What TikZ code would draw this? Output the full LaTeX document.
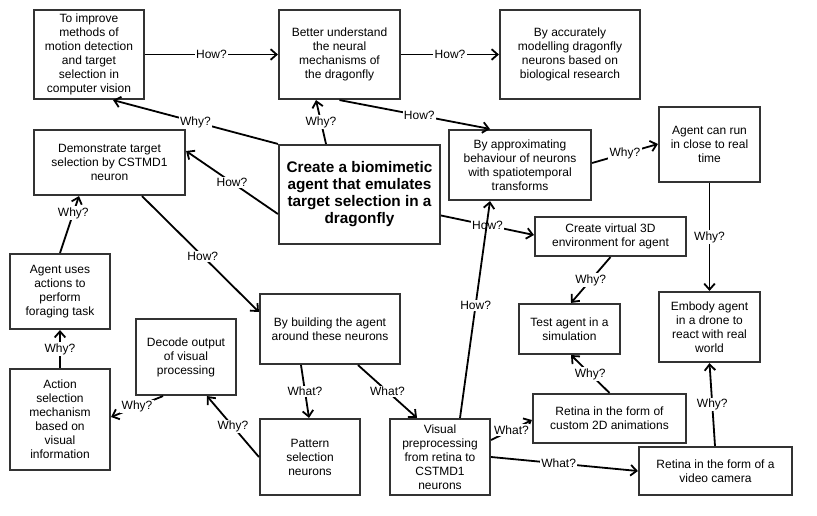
\documentclass[tikz,border=0pt]{standalone}
\usepackage{fontspec}
\setmainfont{Liberation Sans}
\usetikzlibrary{arrows.meta,calc}
\definecolor{boxgray}{HTML}{333333}
\tikzset{
  box/.style 2 args={draw=boxgray, line width=1.6pt, fill=white, align=center,
    minimum width=#1*0.75pt, minimum height=#2*0.75pt, inner sep=1pt,
    font=\fontsize{9}{10.5}\selectfont},
  mainbox/.style 2 args={box={#1}{#2}, font=\fontsize{11.5}{12.75}\selectfont\bfseries},
  conn/.style={line width=1.35pt, black, -{Straight Barb[length=4.5pt,width=8pt,line width=1.35pt]}},
  lbl/.style={fill=white, inner sep=1pt, font=\fontsize{9}{10}\selectfont, text=black}
}
\begin{document}
\begin{tikzpicture}[x=0.75pt, y=-0.75pt]
\useasboundingbox[fill=white] (0,0) rectangle (817,515);
% boxes
\node[box={110}{89}] (b1) at (89,54.5) {To improve\\methods of\\motion detection\\and target\\selection in\\computer vision};
\node[box={121}{89}] (b2) at (339.5,54.5) {Better understand\\the neural\\mechanisms of\\the dragonfly};
\node[box={140}{89}] (b3) at (570,54.5) {By accurately\\modelling dragonfly\\neurons based on\\biological research};
\node[box={151}{65}] (b4) at (109.5,162.5) {Demonstrate target\\selection by CSTMD1\\neuron};
\node[mainbox={161}{99}] (main) at (359.5,194.5) {Create a biomimetic\\agent that emulates\\target selection in a\\dragonfly};
\node[box={142}{70}] (b6) at (520,165) {By approximating\\behaviour of neurons\\with spatiotemporal\\transforms};
\node[box={101}{75}] (b7) at (709.5,144.5) {Agent can run\\in close to real\\time};
\node[box={151}{39}] (b8) at (610.5,236.5) {Create virtual 3D\\environment for agent};
\node[box={100}{75}] (b9) at (60,291.5) {Agent uses\\actions to\\perform\\foraging task};
\node[box={100}{101}] (b10) at (60,419.5) {Action\\selection\\mechanism\\based on\\visual\\information};
\node[box={100}{76}] (b11) at (186,357) {Decode output\\of visual\\processing};
\node[box={140}{70}] (b12) at (330,329) {By building the agent\\around these neurons};
\node[box={100}{76}] (b13) at (310,457) {Pattern\\selection\\neurons};
\node[box={100}{76}] (b14) at (440,457) {Visual\\preprocessing\\from retina to\\CSTMD1\\neurons};
\node[box={101}{50}] (b15) at (569.5,329) {Test agent in a\\simulation};
\node[box={153}{49}] (b16) at (609.5,418.5) {Retina in the form of\\custom 2D animations};
\node[box={153}{48}] (b17) at (715.5,471) {Retina in the form of a\\video camera};
\node[box={101}{70}] (b18) at (709.5,327) {Embody agent\\in a drone to\\react with real\\world};
% connectors
\draw[conn] (b1.east) -- node[lbl]{How?} (b2.west);
\draw[conn] (b2.east) -- node[lbl]{How?} (b3.west);
\draw[conn] (main.north west) -- node[lbl]{Why?} ($(b1.south)+(24,0)$);
\draw[conn] ($(main.north)+(-33.5,0)$) -- node[lbl]{Why?} ($(b2.south)+(-23.5,0)$);
\draw[conn] (b2.south) -- node[lbl,pos=0.53]{How?} ($(b6.north)+(-30,0)$);
\draw[conn] ($(main.west)+(0,19.5)$) -- node[lbl]{How?} ($(b4.east)+(0,-11.5)$);
\draw[conn] ($(b4.south)+(32.5,0)$) -- node[lbl,pos=0.52]{How?} ($(b12.west)+(0,-17)$);
\draw[conn] ($(main.east)+(0,21)$) -- node[lbl]{How?} ($(b8.west)+(0,-1.5)$);
\draw[conn] ($(b14.north)+(20,0)$) -- node[lbl,pos=0.52]{How?} ($(b6.south)+(-30,0)$);
\draw[conn] ($(b6.east)+(0,-2)$) -- node[lbl]{Why?} ($(b7.west)+(0,-0.5)$);
\draw[conn] (b7.south) -- node[lbl]{Why?} (b18.north);
\draw[conn] (b8.south) -- node[lbl]{Why?} ($(b15.north)+(1.5,0)$);
\draw[conn] (b16.north) -- node[lbl]{Why?} ($(b15.south)+(1.5,0)$);
\draw[conn] ($(b14.east)+(0,-17)$) -- node[lbl]{What?} ($(b16.west)+(0,1.5)$);
\draw[conn] (b14.east) -- node[lbl,pos=0.46]{What?} (b17.west);
\draw[conn] ($(b17.north)+(-0.5,0)$) -- node[lbl]{Why?} (b18.south);
\draw[conn] (b9.north) -- node[lbl,pos=0.7]{Why?} ($(b4.south)+(-30.5,0)$);
\draw[conn] (b10.north) -- node[lbl]{Why?} (b9.south);
\draw[conn] ($(b11.south)+(-23,0)$) -- node[lbl]{Why?} ($(b10.east)+(0,-2.5)$);
\draw[conn] (b13.west) -- node[lbl]{Why?} ($(b11.south)+(21,0)$);
\draw[conn] ($(b12.south)+(-29,0)$) -- node[lbl]{What?} ($(b13.north)+(-1,0)$);
\draw[conn] ($(b12.south)+(28,0)$) -- node[lbl]{What?} ($(b14.north)+(-23,0)$);
\end{tikzpicture}
\end{document}
